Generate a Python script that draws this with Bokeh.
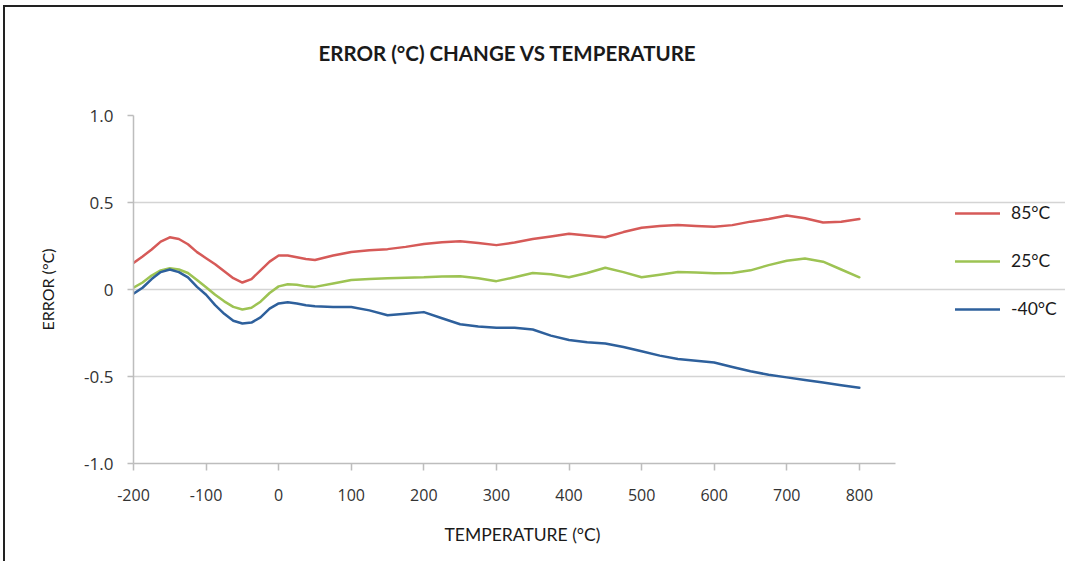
from bokeh.plotting import figure
from bokeh.models import Range1d, FixedTicker, Legend, LegendItem, Title
from bokeh.embed import file_html
from bokeh.resources import INLINE

temps = [-200, -187.5, -175, -162.5, -150, -137.5, -125, -112.5, -100, -87.5, -75, -62.5,
         -50, -37.5, -25, -12.5, 0, 12.5, 25, 37.5, 50,
         75, 100, 125, 150, 175, 200, 225, 250, 275, 300, 325, 350, 375, 400, 425, 450, 475,
         500, 525, 550, 575, 600, 625, 650, 675, 700, 725, 750, 775, 800]

err_85 = [0.153, 0.19, 0.23, 0.275, 0.30, 0.29, 0.26, 0.215, 0.18, 0.145, 0.105, 0.065,
          0.04, 0.06, 0.11, 0.16, 0.195, 0.195, 0.185, 0.175, 0.17,
          0.195, 0.215, 0.225, 0.232, 0.245, 0.262, 0.272, 0.277, 0.267, 0.255, 0.27, 0.29,
          0.305, 0.32, 0.31, 0.30, 0.33, 0.355, 0.365, 0.37, 0.365, 0.36, 0.37, 0.39, 0.405,
          0.425, 0.41, 0.385, 0.39, 0.405]

err_25 = [0.01, 0.04, 0.08, 0.11, 0.122, 0.115, 0.095, 0.055, 0.013, -0.03, -0.068, -0.10,
          -0.115, -0.105, -0.07, -0.02, 0.018, 0.03, 0.027, 0.018, 0.015,
          0.035, 0.055, 0.06, 0.065, 0.068, 0.07, 0.075, 0.076, 0.065, 0.048, 0.07, 0.095,
          0.088, 0.07, 0.095, 0.125, 0.10, 0.07, 0.085, 0.10, 0.097, 0.093, 0.095, 0.11,
          0.14, 0.165, 0.178, 0.16, 0.115, 0.07]

err_m40 = [-0.024, 0.01, 0.06, 0.10, 0.115, 0.10, 0.07, 0.015, -0.03, -0.09, -0.14, -0.18,
           -0.195, -0.19, -0.16, -0.11, -0.08, -0.073, -0.08, -0.09, -0.096,
           -0.10, -0.10, -0.12, -0.148, -0.14, -0.13, -0.165, -0.20, -0.212, -0.22, -0.22,
           -0.23, -0.265, -0.29, -0.303, -0.31, -0.33, -0.355, -0.38, -0.40, -0.41, -0.42,
           -0.445, -0.47, -0.49, -0.505, -0.52, -0.535, -0.55, -0.565]

series_names = ["85°C", "25°C", "-40°C"]
series_colors = ["#D65A58", "#9DC353", "#2E609C"]

x_ticks = [-200, -100, 0, 100, 200, 300, 400, 500, 600, 700, 800]
x_tick_labels = {t: str(t) for t in x_ticks}
x_axis_bounds = (-200, 850)
y_ticks = [-1.0, -0.5, 0.0, 0.5, 1.0]
y_tick_labels = {-1.0: "-1.0", -0.5: "-0.5", 0.0: "0", 0.5: "0.5", 1.0: "1.0"}

p = figure(width=1060, height=556, output_backend="svg", toolbar_location=None,
           x_range=Range1d(-200, 1084), y_range=Range1d(-1.0, 1.0),
           min_border_left=128, min_border_right=0, min_border_top=108,
           min_border_bottom=100,
           styles={"box-shadow": "-2px -2px 0px 0px #222222",
                   "margin-left": "5px", "margin-top": "7px"})
p.title = None

title = Title(text="ERROR (°C) CHANGE VS TEMPERATURE\n ", align="left", offset=185,
              text_font="Lato", text_font_size="20.5px", text_font_style="bold",
              text_color="#1a1a1a", standoff=54)
p.add_layout(title, "above")

p.outline_line_color = None
p.background_fill_color = "white"
p.border_fill_color = "white"

p.xgrid.grid_line_color = None
p.ygrid.grid_line_color = "#d4d4d4"
p.ygrid.grid_line_width = 1.5
p.ygrid.ticker = FixedTicker(ticks=y_ticks)
p.ygrid.bounds = x_axis_bounds

p.xaxis.ticker = FixedTicker(ticks=x_ticks)
p.xaxis.major_label_overrides = x_tick_labels
p.xaxis.bounds = x_axis_bounds
p.yaxis.ticker = FixedTicker(ticks=y_ticks)
p.yaxis.major_label_overrides = y_tick_labels

for ax in (p.xaxis, p.yaxis):
    ax.axis_line_color = "#bdbdbd"
    ax.axis_line_width = 1.5
    ax.major_tick_line_color = "#bdbdbd"
    ax.major_tick_line_width = 1.5
    ax.minor_tick_line_color = None
    ax.major_tick_in = 0
    ax.major_label_text_color = "#333333"
    ax.axis_label_text_color = "#1a1a1a"
    ax.axis_label_text_font = "Lato"
    ax.axis_label_text_font_style = "normal"
    ax.axis_label_text_font_size = "16px"

p.xaxis.major_tick_out = 7
p.yaxis.major_tick_out = 6
p.xaxis.major_label_text_font = "Open Sans"
p.xaxis.major_label_text_font_size = "16px"
p.yaxis.major_label_text_font = "Open Sans"
p.yaxis.major_label_text_font_size = "17px"
p.xaxis.major_label_standoff = 18
p.yaxis.major_label_standoff = 14

p.yaxis.axis_label = "ERROR (°C)"
p.yaxis.axis_label_standoff = 24

xlabel = Title(text="TEMPERATURE (°C)", align="left", offset=311,
               text_font="Lato", text_font_size="17.5px", text_font_style="normal",
               text_color="#1a1a1a", standoff=36)
p.add_layout(xlabel, "below")

renderers = []
for vals, color in zip([err_85, err_25, err_m40], series_colors):
    r = p.line(temps, vals, line_color=color, line_width=2.5, line_join="round", line_cap="round")
    renderers.append(r)

legend = Legend(items=[LegendItem(label=n, renderers=[r]) for n, r in zip(series_names, renderers)],
                location=(822, 144), orientation="vertical",
                glyph_width=45, glyph_height=20, label_height=20, label_standoff=11,
                spacing=27, padding=0, margin=0,
                label_text_font="Lato", label_text_font_size="17.5px", label_text_color="#1a1a1a",
                border_line_color=None, background_fill_alpha=0)
p.add_layout(legend)

open("out.html", "w").write(file_html(p, INLINE))
